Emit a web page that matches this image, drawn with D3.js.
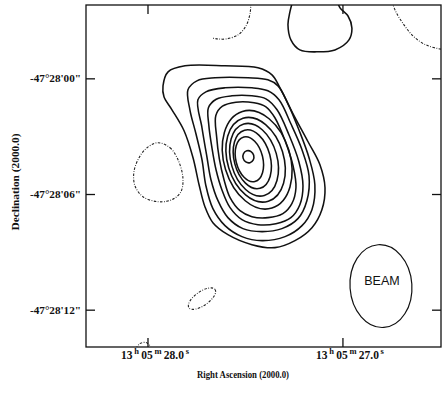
<!DOCTYPE html>
<html><head><meta charset="utf-8">
<script src="https://cdn.jsdelivr.net/npm/d3@7"></script>
<style>
body{margin:0;background:#fff}
svg{display:block}
.frame{fill:none;stroke:#111;stroke-width:1.3}
.cont{fill:none;stroke:#111;stroke-width:1.55}
.neg{fill:none;stroke:#222;stroke-width:1.1;stroke-dasharray:2.5 1.5 0.8 1.5}
text{font-family:"Liberation Serif",serif;fill:#111}
</style></head><body><svg width="443" height="394"></svg>
<script>
// RA = seconds after 13h05m, Dec = arcsec south of -47°28'00"
const raTicks = [28.0, 27.0]
const raLabels = [["13","h","05","m","28.0","s"], ["13","h","05","m","27.0","s"]]
const decTicks = [0, 6, 12]
const decLabels = ['-47°28\'00"', '-47°28\'06"', '-47°28\'12"']
const decRef = -47.467   // for the cos(dec) factor

// positive contours traced as rings [ra, dec]
const ring1 = [[27.923,0.363],[27.897,-0.363],[27.810,-0.674],[27.605,-0.674],[27.436,-0.570],[27.364,-0.207],[27.323,0.466],[27.256,1.813],[27.179,3.264],[27.118,4.456],[27.092,5.647],[27.108,6.787],[27.159,7.720],[27.246,8.393],[27.349,8.756],[27.467,8.601],[27.590,8.083],[27.667,7.461],[27.708,6.632],[27.738,5.492],[27.769,4.093],[27.815,2.694],[27.877,1.606],[27.918,0.933]]
const ring2 = [[27.795,0.570],[27.749,0.104],[27.656,-0.052],[27.487,-0.052],[27.385,0.052],[27.333,0.363],[27.282,1.295],[27.226,2.642],[27.174,4.093],[27.144,5.492],[27.159,6.787],[27.210,7.616],[27.297,8.186],[27.415,8.393],[27.518,8.186],[27.605,7.616],[27.667,6.736],[27.703,5.544],[27.723,4.197],[27.754,2.850],[27.785,1.606]]
const ring3 = [[27.744,1.088],[27.703,0.673],[27.605,0.466],[27.467,0.466],[27.385,0.622],[27.328,1.088],[27.267,2.331],[27.210,3.678],[27.174,5.025],[27.185,6.320],[27.231,7.252],[27.313,7.770],[27.415,7.925],[27.513,7.770],[27.590,7.200],[27.641,6.320],[27.677,5.232],[27.697,4.093],[27.723,2.538]]
const ring4 = [[27.690,1.500],[27.650,1.060],[27.569,0.881],[27.467,0.881],[27.395,1.036],[27.338,1.606],[27.277,2.902],[27.226,4.300],[27.205,5.544],[27.221,6.528],[27.267,7.200],[27.344,7.512],[27.436,7.564],[27.518,7.305],[27.579,6.683],[27.621,5.751],[27.651,4.714],[27.672,3.575],[27.688,2.400]]
const ring5 = [[27.652,1.900],[27.618,1.420],[27.549,1.210],[27.456,1.243],[27.395,1.451],[27.349,2.020],[27.297,3.212],[27.256,4.507],[27.241,5.647],[27.262,6.475],[27.308,6.993],[27.385,7.200],[27.467,7.148],[27.528,6.838],[27.579,6.164],[27.610,5.232],[27.634,4.150],[27.648,3.000]]
const topLoop = [[27.256,-4.09],[27.272,-3.47],[27.282,-2.80],[27.267,-2.02],[27.221,-1.50],[27.133,-1.40],[27.041,-1.50],[26.969,-2.02],[26.954,-2.64],[26.974,-3.26],[27.015,-3.68],[27.031,-4.09]]

// inner contours as ellipses: ra, dec, semi-axis x ("), semi-axis y ("), tilt (deg)
const innerEllipses = [
  [27.440, 4.197, 1.72, 2.62, -17],
  [27.448, 4.197, 1.46, 2.25, -17],
  [27.456, 4.197, 1.20, 1.93, -16],
  [27.465, 4.171, 0.94, 1.56, -15],
  [27.480, 4.171, 0.70, 1.19, -14],
  [27.485, 4.041, 0.285, 0.32, -15]
]

// negative contours
const negLoop = [[27.949,3.315],[27.887,3.574],[27.846,4.197],[27.821,5.129],[27.831,5.854],[27.877,6.269],[27.949,6.373],[28.026,6.114],[28.067,5.544],[28.072,4.818],[28.046,4.093],[28.005,3.574]]
const negArcTop = [[27.472,-3.94],[27.477,-3.37],[27.497,-2.75],[27.538,-2.28],[27.600,-2.07],[27.641,-2.07],[27.672,-2.12]]
const negArcRight = [[26.749,-3.99],[26.728,-3.47],[26.687,-2.80],[26.636,-2.18],[26.574,-1.76],[26.503,-1.55],[26.462,-1.50]]
const negArcBottom = [[28.062,13.99],[28.041,13.73],[28.010,13.68],[27.985,13.89]]
const negEllipses = [[27.723, 11.40, 0.83, 0.36, -35]]

const beam = [26.805, 10.75, 1.61, 2.15, -4]

const svg = d3.select("svg")
const mLeft = 86, mRight = 441, mTop = 5, mBottom = 347

const x = d3.scaleLinear().domain([28.318, 26.497]).range([mLeft, mRight])
const y = d3.scaleLinear().domain([-3.83, 13.91]).range([mTop, mBottom])

// pixels per arcsec on each axis
const kx = Math.abs(x(1) - x(0)) / (15 * Math.cos(decRef * Math.PI / 180))
const ky = Math.abs(y(1) - y(0))

svg.append("clipPath").attr("id", "plot")
  .append("rect").attr("x", mLeft).attr("y", mTop).attr("width", mRight - mLeft).attr("height", mBottom - mTop)

const g = svg.append("g").attr("clip-path", "url(#plot)")

const closed = d3.line().x(d => x(d[0])).y(d => y(d[1])).curve(d3.curveCatmullRomClosed.alpha(0.5))
const open = d3.line().x(d => x(d[0])).y(d => y(d[1])).curve(d3.curveCatmullRom.alpha(0.5))

g.selectAll("path.ring")
  .data([ring1, ring2, ring3, ring4, ring5])
  .enter()
  .append("path")
  .attr("class", "ring cont")
  .attr("d", closed)

g.append("path").attr("class", "cont").attr("d", open(topLoop))

g.selectAll("ellipse.inner")
  .data(innerEllipses)
  .enter()
  .append("ellipse")
  .attr("class", "inner cont")
  .attr("rx", d => d[2] * kx)
  .attr("ry", d => d[3] * ky)
  .attr("transform", d => `translate(${x(d[0])},${y(d[1])}) rotate(${d[4]})`)

g.append("path").attr("class", "neg").attr("d", closed(negLoop))
g.selectAll("path.negarc")
  .data([negArcTop, negArcRight, negArcBottom])
  .enter()
  .append("path")
  .attr("class", "negarc neg")
  .attr("d", open)

g.selectAll("ellipse.negel")
  .data(negEllipses)
  .enter()
  .append("ellipse")
  .attr("class", "negel neg")
  .attr("rx", d => d[2] * kx)
  .attr("ry", d => d[3] * ky)
  .attr("transform", d => `translate(${x(d[0])},${y(d[1])}) rotate(${d[4]})`)

// beam
svg.append("ellipse")
  .attr("fill", "none").attr("stroke", "#111").attr("stroke-width", 1.2)
  .attr("rx", beam[2] * kx).attr("ry", beam[3] * ky)
  .attr("transform", `translate(${x(beam[0])},${y(beam[1])}) rotate(${beam[4]})`)
svg.append("text")
  .attr("x", x(beam[0]) + 1).attr("y", y(beam[1]) - 1.5)
  .attr("text-anchor", "middle")
  .style("font-family", "'Liberation Sans', Arial, sans-serif")
  .style("font-size", "12.5px")
  .text("BEAM")

// frame
svg.append("rect").attr("class", "frame")
  .attr("x", mLeft).attr("y", mTop).attr("width", mRight - mLeft).attr("height", mBottom - mTop)

// ticks, pointing inward on all four sides
const tick = 9
raTicks.forEach(t => {
  svg.append("line").attr("class", "frame").attr("x1", x(t)).attr("x2", x(t)).attr("y1", mBottom).attr("y2", mBottom - tick)
  svg.append("line").attr("class", "frame").attr("x1", x(t)).attr("x2", x(t)).attr("y1", mTop).attr("y2", mTop + tick)
})
decTicks.forEach(t => {
  svg.append("line").attr("class", "frame").attr("x1", mLeft).attr("x2", mLeft + tick).attr("y1", y(t)).attr("y2", y(t))
  svg.append("line").attr("class", "frame").attr("x1", mRight).attr("x2", mRight - tick).attr("y1", y(t)).attr("y2", y(t))
})

// tick labels
decTicks.forEach((t, i) => {
  svg.append("text")
    .attr("x", 81).attr("y", y(t) + 3.5)
    .attr("text-anchor", "end")
    .style("font-size", "11px").style("font-weight", "bold")
    .attr("textLength", 51).attr("lengthAdjust", "spacingAndGlyphs")
    .text(decLabels[i])
})

raTicks.forEach((t, i) => {
  const txt = svg.append("text")
    .attr("x", x(t) + 7).attr("y", 359)
    .attr("text-anchor", "middle")
    .style("font-size", "11.5px").style("font-weight", "bold")
  raLabels[i].forEach((s, j) => {
    const sup = j % 2 === 1
    txt.append("tspan")
      .attr("dy", sup ? -5 : (j > 0 ? 5 : 0))
      .style("font-size", sup ? "8.5px" : "11.5px")
      .text(sup ? "\u2009" + s : (j > 0 ? "\u2009" + s : s))
  })
})

// axis titles
svg.append("text")
  .attr("x", 243).attr("y", 378)
  .attr("text-anchor", "middle")
  .style("font-size", "10px").style("font-weight", "bold")
  .attr("textLength", 92).attr("lengthAdjust", "spacingAndGlyphs")
  .text("Right Ascension (2000.0)")

svg.append("text")
  .attr("transform", "translate(19,182) rotate(-90)")
  .attr("text-anchor", "middle")
  .style("font-size", "11px").style("font-weight", "bold")
  .attr("textLength", 97).attr("lengthAdjust", "spacingAndGlyphs")
  .text("Declination (2000.0)")
</script></body></html>
